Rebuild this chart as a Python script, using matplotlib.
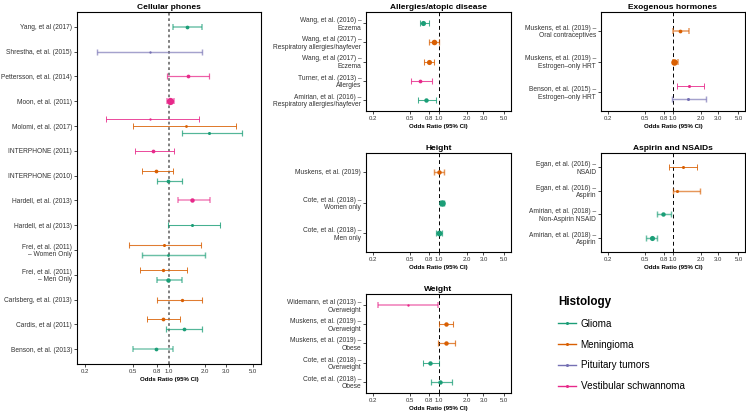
import numpy as np
import matplotlib.pyplot as plt
from matplotlib.lines import Line2D
from matplotlib.ticker import NullLocator

plt.rcParams['font.family'] = ['Liberation Sans', 'DejaVu Sans']

# Histology groups (order from bottom of a dodged row) and colours
hist_codes = ['G', 'M', 'P', 'V']
hist_names = ['Glioma', 'Meningioma', 'Pituitary tumors', 'Vestibular schwannoma']
hist_colors = ['#1B9E77', '#D95F02', '#7570B3', '#E7298A']

x_ticks = [0.2, 0.5, 0.8, 1.0, 2.0, 3.0, 5.0]

# ---- Cellular phones ----
cell_labels = ['Yang, et al (2017)', 'Shrestha, et al. (2015)', 'Pettersson, et al. (2014)',
               'Moon, et al. (2011)', 'Molomi, et al. (2017)', 'INTERPHONE (2011)',
               'INTERPHONE (2010)', 'Hardell, et al. (2013)', 'Hardell, et al (2013)',
               'Frei, et al. (2011)\n– Women Only', 'Frei, et al. (2011)\n– Men Only',
               'Carlsberg, et al. (2013)', 'Cardis, et al (2011)', 'Benson, et al. (2013)']
cell_row = [0, 1, 2, 3, 4, 4, 4, 5, 6, 6, 7, 8, 9, 9, 10, 10, 11, 12, 12, 13]
cell_hist = ['G', 'P', 'V', 'V', 'V', 'M', 'G', 'V', 'M', 'G', 'V', 'G', 'M', 'G', 'M', 'G', 'M', 'M', 'G', 'G']
cell_or = [1.42, 0.69, 1.44, 1.01, 0.69, 1.38, 2.17, 0.74, 0.78, 0.99, 1.57, 1.57, 0.91, 0.99, 0.89, 0.99, 1.28, 0.89, 1.33, 0.78]
cell_lo = [1.08, 0.25, 0.97, 0.97, 0.30, 0.50, 1.29, 0.52, 0.60, 0.80, 1.20, 0.99, 0.46, 0.60, 0.57, 0.80, 0.80, 0.66, 0.95, 0.50]
cell_hi = [1.90, 1.90, 2.16, 1.10, 1.79, 3.62, 4.08, 1.10, 1.09, 1.29, 2.20, 2.68, 1.86, 2.00, 1.42, 1.29, 1.90, 1.24, 1.90, 1.09]
cell_wt = [1.5, 0.5, 1.5, 4.0, 0.5, 0.8, 1.0, 1.5, 1.5, 1.5, 2.0, 1.0, 1.0, 0.8, 1.2, 2.0, 1.2, 1.5, 1.5, 1.5]
cell_prec = [2.5, 2.0, 1.5, 2.5, 1.0, 1.0, 1.5, 1.0, 1.0, 1.5, 3.0, 1.2, 1.2, 2.0, 1.0, 2.5, 1.2, 1.0, 1.5, 3.0]

# ---- Allergies/atopic disease ----
allg_labels = ['Wang, et al. (2016) –\nEczema', 'Wang, et al (2017) –\nRespiratory allergies/hayfever',
               'Wang, et al (2017) –\nEczema', 'Turner, et al. (2013) –\nAllergies',
               'Amirian, et al. (2016) –\nRespiratory allergies/hayfever']
allg_row = [0, 1, 2, 3, 4]
allg_hist = ['G', 'M', 'M', 'V', 'G']
allg_or = [0.69, 0.89, 0.79, 0.64, 0.73]
allg_lo = [0.63, 0.80, 0.71, 0.51, 0.60]
allg_hi = [0.79, 1.00, 0.89, 0.85, 0.93]
allg_wt = [2.5, 2.8, 2.5, 1.5, 2.0]
allg_prec = [1.2, 1.5, 1.2, 1.2, 1.2]

# ---- Exogenous hormones ----
horm_labels = ['Muskens, et al. (2019) –\nOral contraceptives', 'Muskens, et al. (2019) –\nEstrogen–only HRT',
               'Benson, et al. (2015) –\nEstrogen–only HRT']
horm_row = [0, 1, 2, 2]
horm_hist = ['M', 'M', 'V', 'P']
horm_or = [1.20, 1.02, 1.49, 1.46]
horm_lo = [1.00, 0.99, 1.09, 0.98]
horm_hi = [1.47, 1.13, 2.15, 2.26]
horm_wt = [1.5, 3.5, 1.0, 1.0]
horm_prec = [2.5, 2.5, 1.0, 2.0]

# ---- Height ----
hgt_labels = ['Muskens, et al. (2019)', 'Cote, et al. (2018) –\nWomen only', 'Cote, et al. (2018) –\nMen only']
hgt_row = [0, 1, 2]
hgt_hist = ['M', 'G', 'G']
hgt_or = [1.00, 1.09, 1.00]
hgt_lo = [0.90, 1.05, 0.95]
hgt_hi = [1.15, 1.15, 1.10]
hgt_wt = [2.0, 3.5, 3.0]
hgt_prec = [2.0, 2.0, 1.5]

# ---- Aspirin and NSAIDs ----
asp_labels = ['Egan, et al. (2016) –\nNSAID', 'Egan, et al. (2016) –\nAspirin',
              'Amirian, et al. (2018) –\nNon-Aspirin NSAID', 'Amirian, et al. (2018) –\nAspirin']
asp_row = [0, 1, 2, 3]
asp_hist = ['M', 'M', 'G', 'G']
asp_or = [1.27, 1.09, 0.79, 0.59]
asp_lo = [0.91, 1.00, 0.68, 0.52]
asp_hi = [1.81, 1.92, 0.96, 0.68]
asp_wt = [1.0, 1.0, 2.0, 2.5]
asp_prec = [1.0, 2.0, 2.0, 2.0]

# ---- Weight ----
wgt_labels = ['Widemann, et al (2013) –\nOverweight', 'Muskens, et al. (2019) –\nOverweight',
              'Muskens, et al. (2019) –\nObese', 'Cote, et al. (2018) –\nOverweight',
              'Cote, et al. (2018) –\nObese']
wgt_row = [0, 1, 2, 3, 4]
wgt_hist = ['V', 'M', 'M', 'G', 'G']
wgt_or = [0.47, 1.19, 1.20, 0.82, 1.03]
wgt_lo = [0.23, 1.01, 0.99, 0.68, 0.84]
wgt_hi = [0.99, 1.44, 1.49, 1.01, 1.38]
wgt_wt = [0.5, 2.0, 2.0, 2.0, 2.0]
wgt_prec = [2.5, 1.2, 1.5, 1.2, 1.5]


def forest(ax, title, labels, row, hist, orr, lo, hi, wt, prec, grey_ref=False):
    n = len(labels)
    for i in range(len(row)):
        present = sorted({hist_codes.index(h) for r, h in zip(row, hist) if r == row[i]})
        k = len(present)
        j = present.index(hist_codes.index(hist[i]))
        y = n - row[i] - 0.4 + 0.8 / k * (j + 0.5)
        c = hist_colors[hist_codes.index(hist[i])]
        lw = 0.35 + 0.35 * prec[i]
        a = min(1.0, 1.05 - 0.2 * prec[i])
        ax.errorbar(orr[i], y, xerr=[[orr[i] - lo[i]], [hi[i] - orr[i]]], fmt='none',
                    ecolor=c, elinewidth=lw, capsize=2.5, capthick=lw, alpha=a, zorder=3)
        ax.plot(orr[i], y, 'o', color=c, ms=1.2 + 1.0 * wt[i], mew=0, zorder=4)

    if grey_ref:
        ax.axvline(1.0, color='#7F7F7F', lw=1.4, ls=(0, (1.4, 1.4)), zorder=2)
    else:
        ax.axvline(1.0, color='black', lw=0.7, ls=(0, (4, 3)), zorder=2)

    ax.set_xscale('log')
    pad = 10 ** (0.05 * np.log10(5.0 / 0.2))
    ax.set_xlim(0.2 / pad, 5.0 * pad)
    ax.set_xticks(x_ticks)
    ax.set_xticklabels(['%.1f' % t for t in x_ticks])
    ax.xaxis.set_minor_locator(NullLocator())
    ax.set_ylim(0.4, n + 0.6)
    ax.set_yticks([n - r for r in range(n)])
    ax.set_yticklabels(labels, fontsize=4.8, color='#333333', linespacing=1.1)
    ax.tick_params(axis='x', labelsize=4.3, labelcolor='#333333', length=2, width=0.5, pad=1.5)
    ax.tick_params(axis='y', length=2, width=0.5, pad=1.5)
    for s in ax.spines.values():
        s.set_linewidth(0.8)
    ax.set_xlabel('Odds Ratio (95% CI)', fontsize=4.4, fontweight='bold', labelpad=2)
    ax.set_title(title, fontsize=6, fontweight='bold', pad=2)


W, H = 746, 418
fig = plt.figure(figsize=(W / 100, H / 100), dpi=100)


def box(x0, y0, x1, y1):
    return [x0 / W, 1 - y1 / H, (x1 - x0) / W, (y1 - y0) / H]


ax_cell = fig.add_axes(box(77, 12, 261, 364))
ax_allg = fig.add_axes(box(366, 12, 511, 111))
ax_horm = fig.add_axes(box(601, 12, 745, 111))
ax_hgt = fig.add_axes(box(366, 153, 511, 252))
ax_asp = fig.add_axes(box(601, 153, 745, 252))
ax_wgt = fig.add_axes(box(366, 294, 511, 393))

forest(ax_cell, 'Cellular phones', cell_labels, cell_row, cell_hist, cell_or, cell_lo, cell_hi, cell_wt, cell_prec, grey_ref=True)
forest(ax_allg, 'Allergies/atopic disease', allg_labels, allg_row, allg_hist, allg_or, allg_lo, allg_hi, allg_wt, allg_prec)
forest(ax_horm, 'Exogenous hormones', horm_labels, horm_row, horm_hist, horm_or, horm_lo, horm_hi, horm_wt, horm_prec)
forest(ax_hgt, 'Height', hgt_labels, hgt_row, hgt_hist, hgt_or, hgt_lo, hgt_hi, hgt_wt, hgt_prec)
forest(ax_asp, 'Aspirin and NSAIDs', asp_labels, asp_row, asp_hist, asp_or, asp_lo, asp_hi, asp_wt, asp_prec)
forest(ax_wgt, 'Weight', wgt_labels, wgt_row, wgt_hist, wgt_or, wgt_lo, wgt_hi, wgt_wt, wgt_prec)

handles = [Line2D([0], [0], color=c, lw=1.0, marker='o', ms=2.2, mew=0) for c in hist_colors]
leg = fig.legend(handles, hist_names, loc='upper left', bbox_to_anchor=(549 / W, 1 - 287 / H),
                 frameon=False, fontsize=7.1, title='Histology',
                 title_fontproperties={'weight': 'bold', 'size': 8.4},
                 handlelength=1.8, handletextpad=0.5, labelspacing=1.1, alignment='left')

fig.savefig('out.png', dpi=100)
